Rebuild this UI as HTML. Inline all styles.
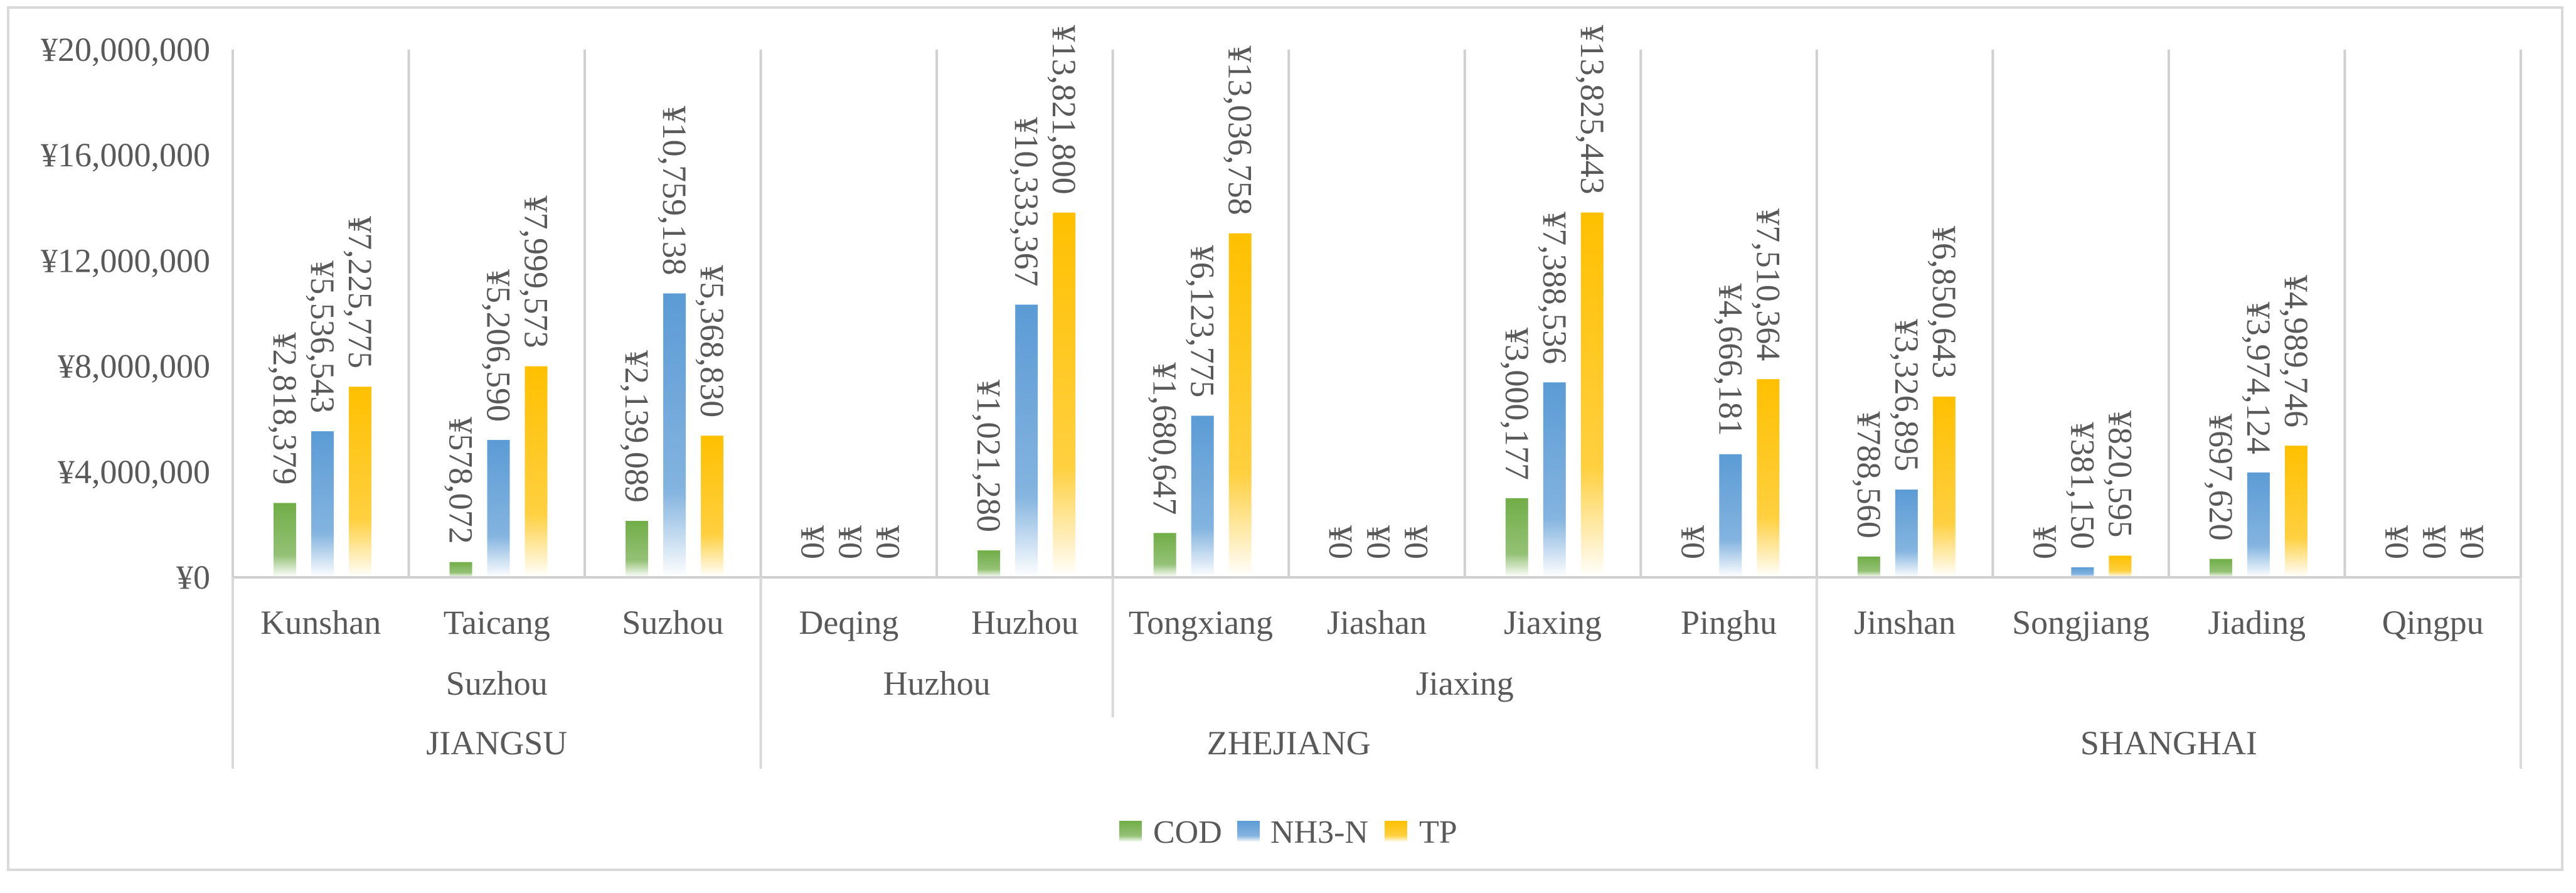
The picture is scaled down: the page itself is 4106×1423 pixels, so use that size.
<!DOCTYPE html>
<html><head><meta charset="utf-8"><style>
html,body{margin:0;padding:0;background:#fff}
svg{display:block}
text{font-family:"Liberation Serif",serif;fill:#595959}
</style></head><body>
<svg id="chart" width="4106" height="1423" viewBox="0 0 4106 1423" xmlns="http://www.w3.org/2000/svg">
<defs>
<linearGradient id="gCOD" x1="0" y1="0" x2="0" y2="1"><stop offset="0" stop-color="#70ad47"/><stop offset="0.7" stop-color="#70ad47" stop-opacity="0.75"/><stop offset="1" stop-color="#70ad47" stop-opacity="0"/></linearGradient>
<linearGradient id="gNH" x1="0" y1="0" x2="0" y2="1"><stop offset="0" stop-color="#5b9bd5"/><stop offset="0.7" stop-color="#5b9bd5" stop-opacity="0.75"/><stop offset="1" stop-color="#5b9bd5" stop-opacity="0"/></linearGradient>
<linearGradient id="gTP" x1="0" y1="0" x2="0" y2="1"><stop offset="0" stop-color="#ffc000"/><stop offset="0.7" stop-color="#ffc000" stop-opacity="0.75"/><stop offset="1" stop-color="#ffc000" stop-opacity="0"/></linearGradient>
</defs>
<rect x="13" y="12" width="4071" height="1374" fill="#fff" stroke="#d9d9d9" stroke-width="4"/>
<g id="grid"></g><g id="bars"></g><g id="labels"></g><g id="axes"></g>
<g>
<rect x="1784" y="1308" width="36" height="34" fill="url(#gCOD)"/>
<text x="1838" y="1343" font-size="52">COD</text>
<rect x="1972" y="1308" width="36" height="34" fill="url(#gNH)"/>
<text x="2025" y="1343" font-size="52">NH3-N</text>
<rect x="2207" y="1308" width="36" height="34" fill="url(#gTP)"/>
<text x="2262" y="1343" font-size="52">TP</text>
</g>
</svg>
<script>
const categories = ["Kunshan","Taicang","Suzhou","Deqing","Huzhou","Tongxiang","Jiashan","Jiaxing","Pinghu","Jinshan","Songjiang","Jiading","Qingpu"];
const codValues = [2818379,578072,2139089,0,1021280,1680647,0,3000177,0,788560,0,697620,0];
const nh3nValues = [5536543,5206590,10759138,0,10333367,6123775,0,7388536,4666181,3326895,381150,3974124,0];
const tpValues = [7225775,7999573,5368830,0,13821800,13036758,0,13825443,7510364,6850643,820595,4989746,0];
const yTicks = [0,4000000,8000000,12000000,16000000,20000000];
const cityGroups = [["Suzhou",0,3],["Huzhou",3,5],["Jiaxing",5,9],["",9,13]];
const provinceGroups = [["JIANGSU",0,3],["ZHEJIANG",3,9],["SHANGHAI",9,13]];

const NS="http://www.w3.org/2000/svg";
const L=371,R=4018,T=79,B=920,YMAX=20000000;
const cw=(R-L)/categories.length;
const y=v=>B-(v/YMAX)*(B-T);
const xc=i=>L+i*cw;
function mk(tag,attrs,parent,txt){const e=document.createElementNS(NS,tag);for(const k in attrs)e.setAttribute(k,attrs[k]);if(txt!==undefined)e.textContent=txt;parent.appendChild(e);return e;}
const grid=document.getElementById('grid'),bars=document.getElementById('bars'),labels=document.getElementById('labels'),axes=document.getElementById('axes');
const fmt=v=>"¥"+v.toLocaleString('en-US');

yTicks.forEach(t=>{
  const e=mk('text',{x:335,y:y(t)+18,'font-size':54,'text-anchor':'end'},axes,fmt(t));
  
  
});
for(let i=0;i<=categories.length;i++){
  const e=mk('line',{x1:xc(i),x2:xc(i),y1:T,y2:B,stroke:'#d0d0d0','stroke-width':4},grid);
  
  
}
const ax=mk('line',{x1:L,x2:R,y1:B,y2:B,stroke:'#d0d0d0','stroke-width':4},axes);


categories.forEach((c,i)=>{
  const e=mk('text',{x:xc(i)+cw/2,y:1010,'font-size':54,'text-anchor':'middle'},axes,c);
  
  
});
cityGroups.forEach(g=>{
  if(g[0]){const e=mk('text',{x:(xc(g[1])+xc(g[2]))/2,y:1107,'font-size':54,'text-anchor':'middle'},axes,g[0]);
  
  }
  const d=mk('line',{x1:xc(g[1]),x2:xc(g[1]),y1:B,y2:1143,stroke:'#d9d9d9','stroke-width':4},axes);
  
  
});
provinceGroups.forEach(g=>{
  const e=mk('text',{x:(xc(g[1])+xc(g[2]))/2,y:1202,'font-size':54,'text-anchor':'middle'},axes,g[0]);
  
  
  const d=mk('line',{x1:xc(g[1]),x2:xc(g[1]),y1:B,y2:1225,stroke:'#d9d9d9','stroke-width':4},axes);
  
  
});
const rd=mk('line',{x1:R,x2:R,y1:B,y2:1225,stroke:'#d9d9d9','stroke-width':4},axes);



const series=[[codValues,'gCOD','cod',83],[nh3nValues,'gNH','nh3n',143],[tpValues,'gTP','tp',203]];
categories.forEach((c,i)=>{
  series.forEach(s=>{
    const v=s[0][i],cx=xc(i)+s[3]*cw/280.5,top=y(v);
    if(v>0){
      const r=mk('rect',{x:cx-18,y:top,width:36,height:B-top,fill:'url(#'+s[1]+')'},bars);
      
      
    }
    const ly=top-29;
    const t=mk('text',{x:0,y:0,'font-size':54,'text-anchor':'end','dominant-baseline':'central',fill:'#404040',transform:'translate('+cx+','+ly+') rotate(90)'},labels,fmt(v));
    
    
  });
});
</script>
</body></html>
